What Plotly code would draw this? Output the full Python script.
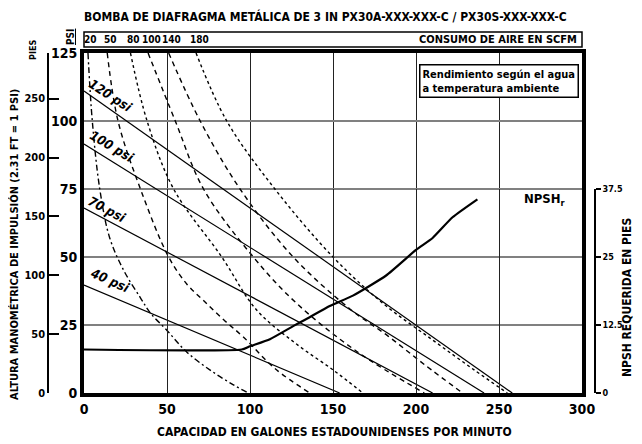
import plotly.graph_objects as go

# air consumption curves (SCFM): gpm vs psi
scfm_labels = ["20", "50", "80", "100", "140", "180"]
gpm_20 = [2.4, 5, 9.5, 15.5, 24, 34, 40, 50, 62, 77, 90, 99]
psi_20 = [125, 100, 75, 57, 45, 35, 29.4, 23, 15, 8, 3, 0]
gpm_50 = [14, 20.5, 34, 51, 62, 72, 84, 96, 115, 136]
psi_50 = [125, 100, 75, 50, 40, 34, 27, 20.6, 9, 0]
gpm_80 = [28, 38, 54, 83, 104, 128, 150, 168]
psi_80 = [125, 100, 75, 50, 30.5, 18, 8.5, 0]
gpm_100 = [38.6, 55, 72, 102, 128, 165, 205]
psi_100 = [125, 100, 75, 50, 33, 15, 0]
gpm_140 = [51, 70, 94, 126, 160, 183, 205, 228]
psi_140 = [125, 100, 75, 50, 31, 21, 10.5, 0]
gpm_180 = [67.5, 86, 115, 150, 180, 210, 235, 255]
psi_180 = [125, 100, 75, 50, 33, 19.5, 8.5, 0]

# air inlet pressure lines
line_labels = ["120 psi", "100 psi", "70 psi", "40 psi"]
gpm_lines = [[0, 258], [0, 241], [0, 210], [0, 154]]
psi_lines = [[111, 0], [91.5, 0], [68, 0], [39.7, 0]]

# NPSH required (ft)
gpm_npsh = [0, 95, 100, 112, 126, 134, 148, 162, 182, 200, 210, 222, 237]
ft_npsh = [8, 8, 8.6, 9.9, 12.3, 13.6, 16, 17.9, 21.6, 26.3, 28.5, 32.3, 35.6]

x_ticks = [0, 50, 100, 150, 200, 250, 300]
psi_ticks = [0, 25, 50, 75, 100, 125]
ft_ticks = [0, 50, 100, 150, 200, 250]
npsh_ticks = [0, 12.5, 25, 37.5]

FONT = "Liberation Sans Narrow, DejaVu Sans Condensed, Arial Narrow, sans-serif"
OFF = 8  # page body margin
W, H = 642 - OFF, 444 - OFF
L, R, T, B = 22, 30, 22, 51
pw, ph = W - L - R, H - T - B


def px_x(px):
    return (px - OFF - L) / pw


def px_y(py):
    return (H - B - (py - OFF)) / ph


def note(text, px, py, size, angle=0, xanchor="center", **kw):
    return dict(x=px_x(px), y=px_y(py), xref="paper", yref="paper", text=text,
                textangle=angle, xanchor=xanchor, yanchor="middle", showarrow=False,
                font=dict(family=FONT, size=size, color="black", weight="bold"), **kw)


x0p, x1p = px_x(84), px_x(582)
ytop = px_y(53)

fig = go.Figure()

curves = [(gpm_20, psi_20), (gpm_50, psi_50), (gpm_80, psi_80),
          (gpm_100, psi_100), (gpm_140, psi_140), (gpm_180, psi_180)]
dashes = ["6px,3px,2px,3px", "5px,4px", "3px,3px", "5px,4px", "5px,4px", "3px,3px"]
for (gx, gy), d in zip(curves, dashes):
    fig.add_trace(go.Scatter(x=gx, y=gy, mode="lines",
                             line=dict(color="black", width=1.4, dash=d,
                                       shape="spline", smoothing=1.0),
                             hoverinfo="skip"))

for gx, gy in zip(gpm_lines, psi_lines):
    fig.add_trace(go.Scatter(x=gx, y=gy, mode="lines",
                             line=dict(color="black", width=1.2), hoverinfo="skip"))

fig.add_trace(go.Scatter(x=gpm_npsh, y=ft_npsh, yaxis="y3", mode="lines",
                         line=dict(color="black", width=2.2, shape="spline", smoothing=0.5),
                         hoverinfo="skip"))

# invisible trace so the feet axis gets drawn
fig.add_trace(go.Scatter(x=[0], y=[0], yaxis="y2", mode="markers",
                         marker=dict(opacity=0), hoverinfo="skip"))

annotations = []

# pressure line labels
label_pos = [(15.7, 109.2, 33), (16.9, 90.8, 31), (13.9, 67.6, 28), (15.7, 41.2, 24)]
for txt, (lx, ly, ang) in zip(line_labels, label_pos):
    annotations.append(dict(x=lx, y=ly, xref="x", yref="y", text="<i>" + txt + "</i>",
                            textangle=ang, showarrow=False,
                            xanchor="center", yanchor="middle",
                            font=dict(family=FONT, size=13, color="black", weight="bold")))

# scfm labels in the top box
for lab, gx in zip(scfm_labels, [c[0][0] for c in curves]):
    annotations.append(dict(x=gx, y=px_y(40), xref="x", yref="paper", text=lab,
                            xshift=3, showarrow=False, xanchor="center", yanchor="middle",
                            font=dict(family=FONT, size=10, color="black", weight="bold")))

annotations += [
    note("CONSUMO DE AIRE EN SCFM", 579, 40, 11, xanchor="right"),
    note("BOMBA DE DIAFRAGMA METÁLICA DE 3 IN PX30A-XXX-XXX-C / PX30S-XXX-XXX-C",
         325, 16, 12),
    note("CAPACIDAD EN GALONES ESTADOUNIDENSES POR MINUTO", 334, 432, 12),
    note("ALTURA MANOMÉTRICA DE IMPULSIÓN (2.31 FT = 1 PSI)", 14, 245, 11, angle=-90),
    note("NPSH REQUERIDA EN PIES", 627, 298, 12, angle=-90),
    note("PIES", 33, 50, 9, angle=-90),
    note("<u>PSI</u>", 71, 37, 10, angle=-90),
    note("NPSH<sub>r</sub>", 545, 199, 13),
    note("Rendimiento según el agua<br>a temperatura ambiente", 419, 81, 11,
         xanchor="left", align="left", bordercolor="black", borderwidth=1.5,
         borderpad=2, bgcolor="white"),
]

fig.update_layout(
    template="none",
    width=W, height=H,
    margin=dict(l=L, r=R, t=T, b=B),
    paper_bgcolor="white", plot_bgcolor="rgba(0,0,0,0)",
    showlegend=False,
    annotations=annotations,
    shapes=[dict(type="rect", xref="paper", yref="paper",
                 x0=x0p, x1=x1p, y0=px_y(47), y1=px_y(32),
                 line=dict(color="black", width=1.5))],
    xaxis=dict(domain=[x0p, x1p], range=[0, 300], tickvals=x_ticks, automargin=False,
               showgrid=True, gridcolor="#222222", gridwidth=1.2, zeroline=False,
               showline=True, linecolor="black", linewidth=4, mirror=True, ticks="",
               tickfont=dict(family=FONT, size=14, color="black", weight="bold")),
    yaxis=dict(domain=[0, ytop], range=[0, 125], tickvals=psi_ticks, automargin=False,
               showgrid=True, gridcolor="#808080", gridwidth=2, zeroline=False,
               showline=True, linecolor="black", linewidth=4, mirror=True, ticks="",
               tickfont=dict(family=FONT, size=14, color="black", weight="bold")),
    yaxis2=dict(overlaying="y", anchor="free", position=px_x(48), side="left",
                automargin=False,
                range=[0, 125 * 2.31], tickvals=ft_ticks, showgrid=False, zeroline=False,
                showline=True, linecolor="black", linewidth=1.5,
                ticks="inside", ticklen=10, tickwidth=1.5, tickcolor="black",
                tickfont=dict(family=FONT, size=11, color="black", weight="bold")),
    yaxis3=dict(domain=[0, ytop * 0.6], range=[0, 37.5], anchor="free", automargin=False,
                position=px_x(595), side="right", tickvals=npsh_ticks,
                ticktext=["0", "12.5", "25", "37.5"], showgrid=False, zeroline=False,
                showline=True, linecolor="black", linewidth=1.5,
                ticks="outside", ticklen=5, tickwidth=1.5, tickcolor="black",
                tickfont=dict(family=FONT, size=9, color="black", weight="bold")),
)

fig.write_html("out.html")
